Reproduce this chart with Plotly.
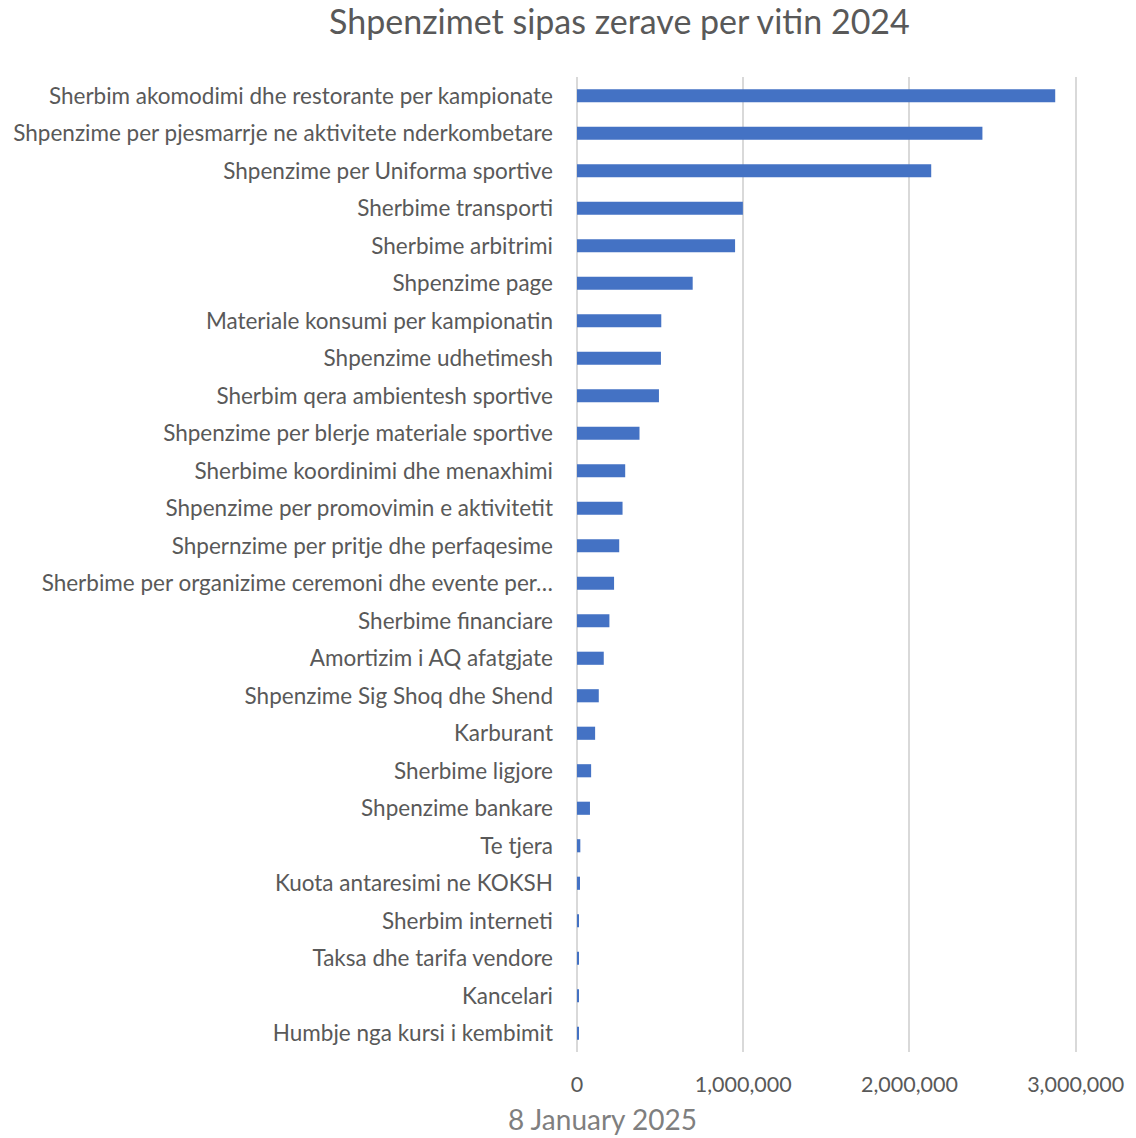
import plotly.graph_objects as go

categories = [
    "Sherbim akomodimi dhe restorante per kampionate",
    "Shpenzime per pjesmarrje ne aktivitete nderkombetare",
    "Shpenzime per Uniforma sportive",
    "Sherbime transporti",
    "Sherbime arbitrimi",
    "Shpenzime page",
    "Materiale konsumi per kampionatin",
    "Shpenzime udhetimesh",
    "Sherbim qera ambientesh sportive",
    "Shpenzime per blerje materiale sportive",
    "Sherbime koordinimi dhe menaxhimi",
    "Shpenzime per promovimin e aktivitetit",
    "Shpernzime per pritje dhe perfaqesime",
    "Sherbime per organizime ceremoni dhe evente per…",
    "Sherbime financiare",
    "Amortizim i AQ afatgjate",
    "Shpenzime Sig Shoq dhe Shend",
    "Karburant",
    "Sherbime ligjore",
    "Shpenzime bankare",
    "Te tjera",
    "Kuota antaresimi ne KOKSH",
    "Sherbim interneti",
    "Taksa dhe tarifa vendore",
    "Kancelari",
    "Humbje nga kursi i kembimit",
]

values = [
    2877000, 2439000, 2131000, 998000, 951000, 696000, 507000, 505000,
    493000, 376000, 290000, 274000, 254000, 223000, 195000, 161000,
    131000, 109000, 85000, 78000, 20000, 18000, 12000, 10000, 8000, 7000,
]

tick_values = [0, 1000000, 2000000, 3000000]
tick_labels = ["0", "1,000,000", "2,000,000", "3,000,000"]

title_text = "Shpenzimet sipas zerave per vitin 2024"
date_text = "8 January 2025"

FONT = "Lato"
GREY = "#595959"

fig = go.Figure(
    go.Bar(
        x=values,
        y=categories,
        orientation="h",
        marker=dict(color="#4472C4", line=dict(width=0)),
        hoverinfo="x+y",
    )
)

fig.update_layout(
    width=1136,
    height=1138,
    paper_bgcolor="white",
    plot_bgcolor="white",
    margin=dict(l=577, r=50, t=77, b=86),
    bargap=0.65,
    showlegend=False,
    title=dict(
        text=title_text,
        x=0.5453,
        xanchor="center",
        y=0.9807,
        yanchor="middle",
        font=dict(family=FONT, size=34, color=GREY),
    ),
    font=dict(family=FONT, size=22, color=GREY),
)

fig.update_xaxes(
    range=[0, 3008000],
    tickvals=tick_values,
    ticktext=tick_labels,
    showgrid=True,
    gridcolor="#D9D9D9",
    gridwidth=1.5,
    zeroline=True,
    zerolinecolor="#D9D9D9",
    zerolinewidth=1.5,
    showline=False,
    ticks="",
    ticklabelstandoff=17,
    tickfont=dict(family=FONT, size=21.5, color=GREY),
    fixedrange=True,
)

fig.update_yaxes(
    categoryorder="array",
    categoryarray=categories,
    autorange="reversed",
    showgrid=False,
    showline=False,
    ticks="",
    ticklabelstandoff=23,
    tickfont=dict(family=FONT, size=22.5, color=GREY),
    fixedrange=True,
)

fig.add_annotation(
    text=date_text,
    xref="paper",
    yref="paper",
    x=0.0516,
    y=-0.0885,
    xanchor="center",
    yanchor="bottom",
    showarrow=False,
    font=dict(family=FONT, size=28, color="#7F7F7F"),
)

fig.write_html(
    "out.html",
    config={"displayModeBar": False},
    post_script="document.body.style.margin='0';document.body.style.overflow='hidden';",
)
